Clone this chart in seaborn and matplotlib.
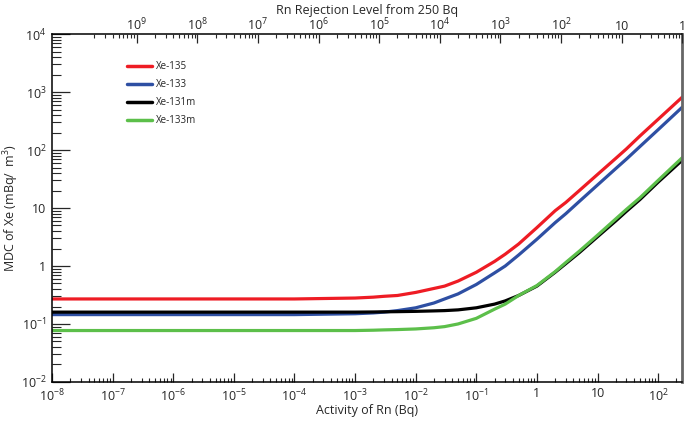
import numpy as np
import pandas as pd
import matplotlib
matplotlib.use("Agg")
import matplotlib.pyplot as plt
import matplotlib.ticker as mticker
import seaborn as sns

activity = [1e-8, 1e-7, 1e-6, 1e-5, 1e-4, 1e-3, 2e-3, 3e-3, 5e-3, 1e-2, 2e-2, 3e-2, 5e-2,
            0.1, 0.2, 0.3, 0.5, 1, 2, 3, 5, 10, 20, 30, 50, 100, 250]

# MDC of Xe (mBq/m3)
xe135 = [0.27, 0.27, 0.27, 0.27, 0.27, 0.28, 0.29, 0.30, 0.31, 0.35, 0.41, 0.45, 0.55,
         0.78, 1.2, 1.6, 2.4, 4.6, 9.0, 12.5, 20, 38, 72, 105, 175, 340, 820]
xe133 = [0.145, 0.145, 0.145, 0.145, 0.145, 0.15, 0.155, 0.16, 0.17, 0.19, 0.23, 0.27, 0.33,
         0.48, 0.76, 1.0, 1.55, 2.9, 5.6, 8.0, 13, 25, 48, 70, 115, 225, 550]
xe131m = [0.16, 0.16, 0.16, 0.16, 0.16, 0.16, 0.161, 0.162, 0.163, 0.165, 0.168, 0.17, 0.175,
          0.19, 0.22, 0.25, 0.31, 0.45, 0.78, 1.1, 1.7, 3.2, 6.0, 8.8, 14, 28, 67]
xe133m = [0.077, 0.077, 0.077, 0.077, 0.077, 0.077, 0.078, 0.079, 0.08, 0.082, 0.086, 0.09, 0.10,
          0.125, 0.18, 0.22, 0.31, 0.46, 0.80, 1.15, 1.8, 3.4, 6.5, 9.5, 15, 30, 74]

isotopes = ["Xe-135", "Xe-133", "Xe-131m", "Xe-133m"]
colors = ["#ee1c24", "#2e4fa3", "#000000", "#5cbf4a"]

# top axis: Rn rejection level from 250 Bq
top_ticks = [2.5e-7, 2.5e-6, 2.5e-5, 2.5e-4, 2.5e-3, 2.5e-2, 2.5e-1, 2.5, 25, 250]
top_labels = ["$10^9$", "$10^8$", "$10^7$", "$10^6$", "$10^5$", "$10^4$",
              "$10^3$", "$10^2$", "10", "1"]

bottom_ticks = [1e-8, 1e-7, 1e-6, 1e-5, 1e-4, 1e-3, 1e-2, 1e-1, 1, 10, 100]
bottom_labels = ["$10^{-8}$", "$10^{-7}$", "$10^{-6}$", "$10^{-5}$", "$10^{-4}$",
                 "$10^{-3}$", "$10^{-2}$", "$10^{-1}$", "1", "10", "$10^2$"]
y_ticks = [1e-2, 1e-1, 1, 10, 100, 1e3, 1e4]
y_labels = ["$10^{-2}$", "$10^{-1}$", "1", "10", "$10^2$", "$10^3$", "$10^4$"]

df = pd.DataFrame({
    "activity": activity * 4,
    "mdc": xe135 + xe133 + xe131m + xe133m,
    "isotope": np.repeat(isotopes, len(activity)),
})

sns.set_style("ticks")
plt.rcParams["font.family"] = ["Open Sans", "DejaVu Sans"]
plt.rcParams["mathtext.fontset"] = "custom"
plt.rcParams["mathtext.rm"] = "Open Sans"
plt.rcParams["mathtext.it"] = "Open Sans"

fig = plt.figure(figsize=(6.85, 4.22), dpi=100)
ax = fig.add_axes([0.076, 0.095, 0.92, 0.824])

sns.lineplot(data=df, x="activity", y="mdc", hue="isotope", hue_order=isotopes,
             palette=colors, linewidth=2.3, ax=ax, legend=True)

ax.set_xscale("log")
ax.set_yscale("log")
ax.set_xlim(1e-8, 250)
ax.set_ylim(1e-2, 1e4)

ax.set_xticks(bottom_ticks)
ax.set_xticklabels(bottom_labels)
ax.set_yticks(y_ticks)
ax.set_yticklabels(y_labels)
ax.xaxis.set_minor_locator(mticker.LogLocator(base=10, subs=np.arange(2, 10), numticks=20))
ax.yaxis.set_minor_locator(mticker.LogLocator(base=10, subs=np.arange(2, 10), numticks=20))
ax.xaxis.set_minor_formatter(mticker.NullFormatter())
ax.yaxis.set_minor_formatter(mticker.NullFormatter())

ax.tick_params(axis="x", which="major", direction="in", length=6.5, width=0.9,
               labelsize=9, pad=4, top=False)
ax.tick_params(axis="x", which="minor", direction="in", length=3, width=0.8, top=False)
ax.tick_params(axis="y", which="major", direction="in", length=13, width=0.9,
               labelsize=9, pad=4, right=False)
ax.tick_params(axis="y", which="minor", direction="in", length=6.5, width=0.8, right=False)

ax.set_xlabel("Activity of Rn (Bq)", fontsize=9, labelpad=0)
ax.set_ylabel("MDC of Xe (mBq/  m$^3$)", fontsize=9)
ax.yaxis.set_label_coords(-0.05, 0.5)

for s in ["left", "bottom", "top"]:
    ax.spines[s].set_color("black")
    ax.spines[s].set_linewidth(1.1)
ax.spines["right"].set_color("#666666")
ax.spines["right"].set_linewidth(2)

# top axis with the same log pattern, shifted by 250
ax2 = ax.twiny()
ax2.set_xscale("log")
ax2.set_xlim(ax.get_xlim())
ax2.set_xticks(top_ticks)
ax2.set_xticklabels(top_labels)
top_minor = [2.5 * m * 10.0 ** k for k in range(-8, 2) for m in range(2, 10)]
ax2.set_xticks(top_minor, minor=True)
ax2.xaxis.set_minor_formatter(mticker.NullFormatter())
ax2.tick_params(axis="x", which="major", direction="in", length=6.5, width=0.9,
                labelsize=9, pad=0.5)
ax2.tick_params(axis="x", which="minor", direction="in", length=3, width=0.8)
ax2.set_xlabel("Rn Rejection Level from 250 Bq", fontsize=9)
ax2.xaxis.set_label_coords(0.5, 1.058)
for s in ax2.spines.values():
    s.set_visible(False)

leg = ax.legend(loc="upper left", bbox_to_anchor=(0.105, 0.947), frameon=False,
                fontsize=7, handlelength=2.6, handletextpad=0.4, labelspacing=0.72)
for line in leg.get_lines():
    line.set_linewidth(2.5)

fig.savefig("out.png", dpi=100)
